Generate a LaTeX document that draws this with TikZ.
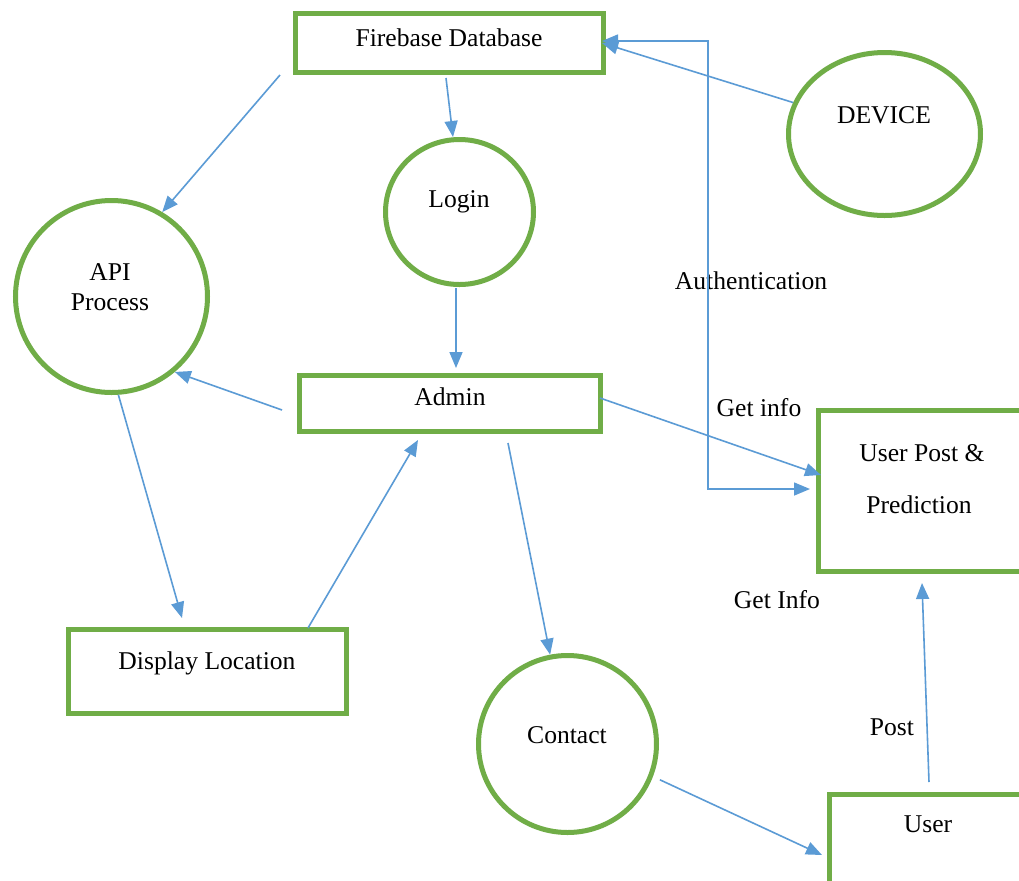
\documentclass[tikz,border=0pt]{standalone}
\usepackage{fontspec}
\setmainfont{Liberation Serif}
\usetikzlibrary{arrows.meta,shapes.geometric}
\definecolor{boxgreen}{HTML}{70AD47}
\definecolor{flowblue}{HTML}{5B9BD5}
\begin{document}
\begin{tikzpicture}[x=0.5pt,y=-0.5pt,
  box/.style={draw=boxgreen,line width=2.5pt,rectangle,inner sep=0pt},
  proc/.style={draw=boxgreen,line width=2.5pt,ellipse,inner sep=0pt},
  lbl/.style={font=\fontsize{12.8}{15}\selectfont,inner sep=0pt,text=black},
  flow/.style={draw=flowblue,line width=0.8pt,-{Triangle[length=8pt,width=6.5pt]}},
  flowboth/.style={draw=flowblue,line width=0.8pt,{Triangle[length=8pt,width=6.5pt]}-{Triangle[length=8pt,width=6.5pt]}},
]
\useasboundingbox (0,0) rectangle (1019,880);
\fill[white] (0,0) rectangle (1019,880);
\clip (0,0) rectangle (1019,880);

% data stores and external entities
\node[box,minimum width=154pt,minimum height=29.5pt] (fb) at (449.5,43) {};
\node[box,minimum width=150.5pt,minimum height=28pt] (admin) at (450,403.5) {};
\node[box,minimum width=139pt,minimum height=42pt] (disp) at (207.5,671.5) {};
\node[box,minimum width=109.5pt,minimum height=80.5pt] (upost) at (928,491) {};
\node[box,minimum width=104pt,minimum height=56.5pt] (user) at (933.5,851) {};

% processes
\node[proc,minimum width=74pt,minimum height=72.5pt] (login) at (459.5,212) {};
\node[proc,minimum width=96pt,minimum height=96pt] (api) at (111.5,296.5) {};
\node[proc,minimum width=96pt,minimum height=81.5pt] (dev) at (884.5,134) {};
\node[proc,minimum width=89pt,minimum height=88.5pt] (contact) at (567.5,744) {};

% texts
\node[lbl] (fbtxt) at (449,38) {Firebase Database};
\node[lbl] (logintxt) at (459,202) {Login};
\node[lbl] (devtxt) at (884,115) {DEVICE};
\node[lbl] (apitxt1) at (110,272) {API};
\node[lbl] (apitxt2) at (110,302) {Process};
\node[lbl] (admintxt) at (450,397) {Admin};
\node[lbl] (uposttxt1) at (922,453) {User Post \&};
\node[lbl] (uposttxt2) at (919,505) {Prediction};
\node[lbl] (disptxt) at (207,663) {Display Location};
\node[lbl] (contacttxt) at (567,735) {Contact};
\node[lbl] (usertxt) at (928,824) {User};

\node[lbl] (authlbl) at (751,281) {Authentication};
\node[lbl] (getinfo1) at (759,408) {Get info};
\node[lbl] (getinfo2) at (777,600) {Get Info};
\node[lbl] (postlbl) at (892,727) {Post};

% flows
\draw[flow] ([shift={(-13,0)}]fb.south west) -- (api.59);
\draw[flow] ([shift={(-3.5,3)}]fb.south) -- ([shift={(-6.5,0)}]login.north);
\draw[flow] ([shift={(-3.5,1)}]login.south) -- ([shift={(6,-5)}]admin.north);
\draw[flow] (dev.161) -- ([shift={(-4,0)}]fb.east);
\draw[flowboth] ([shift={(-4,-2)}]fb.east) -- ++(106,0) |- ([shift={(-6,-2)}]upost.west);
\draw[flow] ([shift={(-15,6.5)}]admin.west) -- (api.-50);
\draw[flow] (api.-86) -- ([shift={(-25.5,-9)}]disp.north);
\draw[flow] ([shift={(-41,1)}]disp.north east) -- ([shift={(-32,6)}]admin.south);
\draw[flow] ([shift={(-3,-5.5)}]admin.east) -- ([shift={(5,-16)}]upost.west);
\draw[flow] ([shift={(58,9)}]admin.south) -- (contact.101);
\draw[flow] ([shift={(7,3)}]contact.-21) -- ([shift={(-5,4)}]user.west);
\draw[flow] ([shift={(-4.5,-10)}]user.north) -- ([shift={(-6,9)}]upost.south);
\end{tikzpicture}
\end{document}
